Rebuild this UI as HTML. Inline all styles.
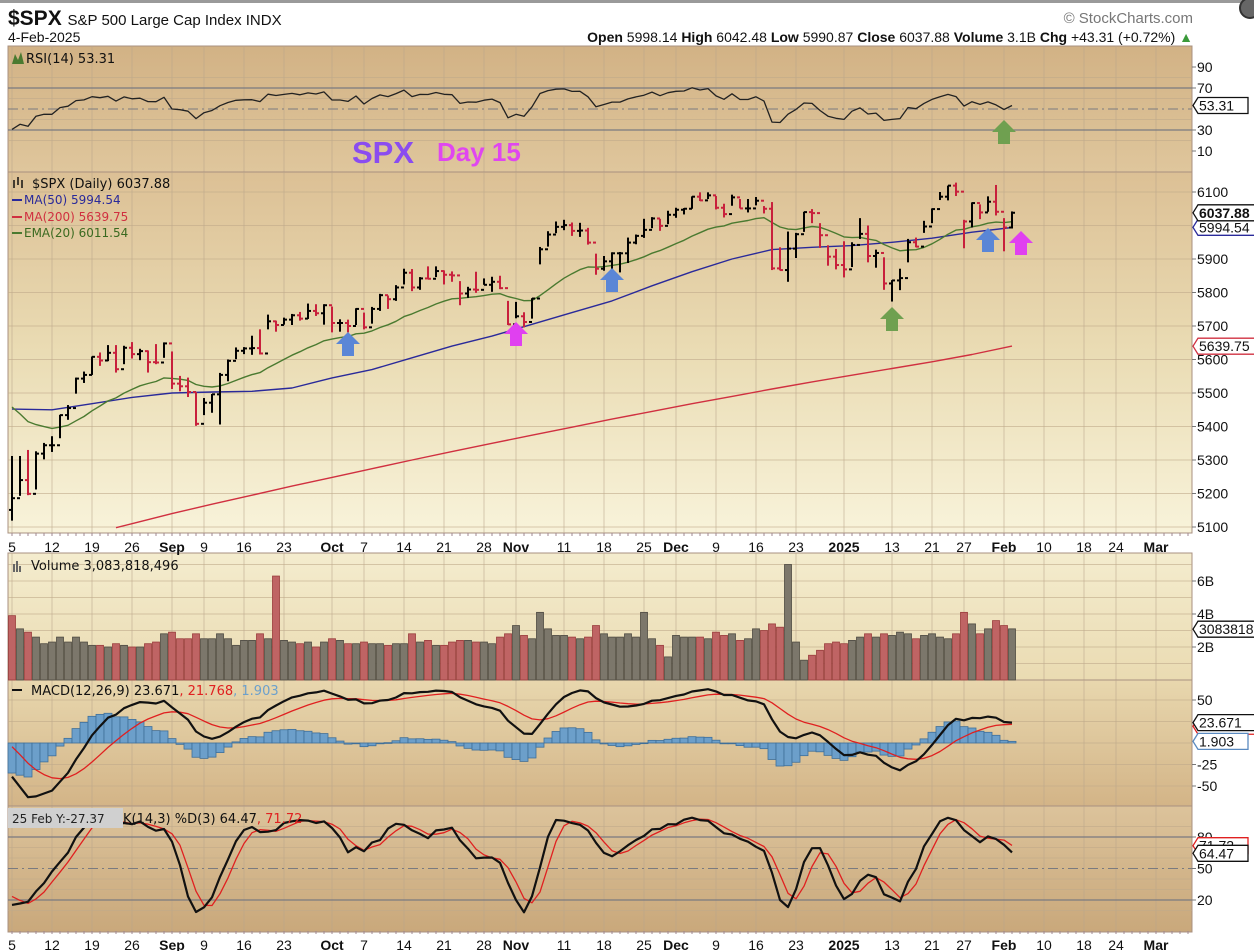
<!DOCTYPE html>
<html><head><meta charset="utf-8"><title>$SPX chart</title>
<style>
html,body{margin:0;padding:0;background:#fff;}
body{width:1254px;height:951px;overflow:hidden;font-family:"Liberation Sans",sans-serif;}
svg{display:block;}
</style></head>
<body>
<svg id="chart" width="1254" height="951" viewBox="0 0 1254 951" xmlns="http://www.w3.org/2000/svg">
<defs>
<linearGradient id="gRsi" x1="0" y1="0" x2="0" y2="1"><stop offset="0" stop-color="#d2b285"/><stop offset="1" stop-color="#dfc69c"/></linearGradient>
<linearGradient id="gPrice" x1="0" y1="0" x2="0" y2="1"><stop offset="0" stop-color="#dcc095"/><stop offset="0.5" stop-color="#eadcb4"/><stop offset="1" stop-color="#f8f3da"/></linearGradient>
<linearGradient id="gVol" x1="0" y1="0" x2="0" y2="1"><stop offset="0" stop-color="#f4ecce"/><stop offset="1" stop-color="#eadbb2"/></linearGradient>
<linearGradient id="gMacd" x1="0" y1="0" x2="0" y2="1"><stop offset="0" stop-color="#e8d7ae"/><stop offset="1" stop-color="#d3b487"/></linearGradient>
<linearGradient id="gSto" x1="0" y1="0" x2="0" y2="1"><stop offset="0" stop-color="#dcc39b"/><stop offset="1" stop-color="#c9a87b"/></linearGradient>
</defs>
<rect x="0" y="0" width="1254" height="3" fill="#9a9a9a"/>
<g>
<text x="8" y="25" font-size="21" font-weight="bold" fill="#111">$SPX <tspan font-size="15" font-weight="normal">S&amp;P 500 Large Cap Index  INDX</tspan></text>
<text x="8" y="42" font-size="14" fill="#111">4-Feb-2025</text>
<text x="1193" y="42" font-size="14" text-anchor="end" fill="#111"><tspan font-weight="bold">Open</tspan> 5998.14 <tspan font-weight="bold">High</tspan> 6042.48 <tspan font-weight="bold">Low</tspan> 5990.87 <tspan font-weight="bold">Close</tspan> 6037.88 <tspan font-weight="bold">Volume</tspan> 3.1B <tspan font-weight="bold">Chg</tspan> +43.31 (+0.72%) <tspan fill="#3a9a3a">▲</tspan></text>
<text x="1193" y="23" font-size="15" text-anchor="end" fill="#777">© StockCharts.com</text>
<circle cx="1250" cy="8" r="10" fill="#666" stroke="#333" stroke-width="2"/>
</g>
<g id="panels"></g>
<g id="marks"></g>
<g>
<text x="352" y="163" font-size="31" font-weight="bold" fill="#8a4cf0">SPX</text>
<text x="437" y="161" font-size="26" font-weight="bold" fill="#e046f0">Day 15</text>
</g>
<g id="arrows"></g>
</svg>
<script>
// ---- data ----
const preClose=[5572,5577,5633,5585,5615,5631,5667,5589,5545,5505,5564,5556,5427,5399,5459,5464,5436,5522,5446,5347];
const preHigh=[5583,5590,5635,5642,5655,5666,5667,5622,5614,5557,5567,5585,5524,5491,5479,5487,5489,5551,5567,5383];
const preLow=[5562,5565,5587,5575,5590,5614,5632,5584,5522,5497,5524,5548,5426,5390,5430,5444,5401,5485,5412,5302];
const closes=[5186,5240,5199,5319,5344,5344,5434,5455,5543,5554,5608,5597,5620,5571,5635,5616,5625,5592,5591,5648,
5528,5520,5503,5408,5471,5496,5554,5596,5626,5633,5634,5618,5714,5703,5719,5732,5722,5745,5738,5762,
5709,5709,5700,5751,5696,5751,5792,5780,5815,5859,5815,5842,5841,5864,5853,5851,5797,5809,5808,5823,5832,5813,5705,
5729,5712,5782,5929,5973,5996,6001,5984,5985,5949,5871,5893,5917,5917,5949,5969,5987,6021,5999,6032,
6047,6050,6086,6075,6090,6053,6034,6084,6051,6051,6074,6050,5872,5867,5931,5974,6040,6037,5971,5907,5882,
5869,5942,5975,5909,5918,5827,5836,5843,5950,5937,5997,6049,6086,6119,6101,6012,6067,6039,6071,6041,
5994,6038];
const highs=[5312,5312,5330,5326,5351,5371,5435,5464,5546,5564,5609,5621,5643,5643,5641,5652,5632,5627,5646,5651,
5624,5551,5546,5503,5485,5497,5560,5600,5636,5637,5671,5690,5734,5716,5725,5736,5742,5767,5765,5765,
5758,5720,5719,5753,5740,5757,5796,5791,5822,5871,5870,5846,5878,5878,5866,5863,5834,5817,5862,5842,5847,5850,5775,
5772,5741,5783,5936,5983,6012,6017,6009,6008,5993,5916,5909,5920,5921,5964,5973,6020,6025,6020,6044,
6053,6052,6087,6099,6099,6088,6065,6092,6079,6079,6085,6058,6070,5935,5982,5978,6041,6049,6007,5941,5930,
5953,5950,6022,6000,5928,5905,5837,5871,5960,5964,6014,6051,6100,6119,6128,6017,6069,6063,6087,6121,
6022,6042];
const lows=[5119,5193,5195,5212,5302,5324,5365,5420,5498,5530,5554,5581,5595,5561,5586,5603,5598,5561,5586,5605,
5512,5505,5488,5402,5434,5441,5406,5535,5601,5616,5614,5615,5690,5683,5704,5703,5716,5721,5730,5704,
5681,5683,5681,5703,5690,5707,5745,5751,5775,5824,5804,5808,5840,5846,5824,5832,5762,5784,5799,5823,5802,5810,5703,
5723,5696,5722,5884,5937,5977,5986,5969,5966,5943,5853,5865,5851,5860,5888,5944,5963,5992,5984,6004,
6023,6033,6050,6073,6079,6048,6024,6059,6051,6039,6060,6036,5867,5866,5832,5903,5981,6007,5933,5880,5869,
5845,5876,5960,5890,5874,5808,5773,5807,5890,5935,5978,6007,6076,6075,6088,5932,5994,6019,6041,6030,
5923,5991];
const firstOpen=5151;
const volumes=[3.9,3.1,2.9,2.6,2.2,2.3,2.6,2.3,2.6,2.3,2.1,2.1,2.0,2.2,2.1,2.0,2.0,2.2,2.3,2.8,
2.9,2.5,2.5,2.8,2.5,2.5,2.8,2.5,2.1,2.4,2.4,2.8,2.5,6.3,2.4,2.3,2.2,2.3,2.0,2.3,
2.5,2.4,2.2,2.2,2.3,2.2,2.2,2.1,2.2,2.2,2.8,2.3,2.4,2.1,2.1,2.3,2.4,2.4,2.3,2.3,2.2,2.6,2.8,
3.3,2.7,2.5,4.1,3.1,2.7,2.7,2.6,2.5,2.6,3.3,2.8,2.6,2.6,2.8,2.6,4.1,2.5,2.1,1.4,
2.7,2.6,2.6,2.6,2.5,2.9,2.7,2.8,2.4,2.5,3.1,3.0,3.4,3.2,7.0,2.3,1.2,1.5,1.8,2.2,2.3,
2.2,2.4,2.6,2.8,2.6,2.8,2.7,2.9,2.8,2.5,2.7,2.8,2.6,2.5,2.8,4.1,3.4,2.8,3.1,3.6,
3.3,3.1];
const ma50Idx=[0,5,10,15,20,25,30,35,40,45,50,55,60,65,70,75,80,85,90,95,100,105,110,115,120,125];
const ma50Val=[5452,5450,5468,5487,5500,5503,5505,5515,5545,5570,5605,5640,5670,5705,5740,5775,5820,5862,5900,5928,5935,5940,5950,5962,5980,5994];
const ma200Idx=[13,15,20,25,30,35,40,45,50,55,60,65,70,75,80,85,90,95,100,105,110,115,120,125];
const ma200Val=[5098,5110,5140,5168,5195,5222,5248,5274,5300,5325,5350,5374,5398,5422,5445,5468,5490,5512,5533,5553,5573,5593,5615,5640];
const emaSeed=5480, ema12Seed=5510, ema26Seed=5450, signalSeed=52, rsiGainSeed=18, rsiLossSeed=10;
const dateLabels=["5","12","19","26","Sep","9","16","23","Oct","7","14","21","28","Nov","11","18","25","Dec","9","16","23","2025","13","21","27","Feb","10","18","24","Mar"];
const dateIdx=[0,5,10,15,20,24,29,34,40,44,49,54,59,63,69,74,79,83,88,93,98,104,110,115,119,124,129,134,138,143];
const dateBold=["Sep","Oct","Nov","Dec","2025","Feb","Mar"];
const priceTicks=[6100,6000,5900,5800,5700,5600,5500,5400,5300,5200,5100];
const priceTickLabels=["6100","","5900","5800","5700","5600","5500","5400","5300","5200","5100"];
const rsiTicks=[90,70,30,10];
const volTicks=[6,4,2];
const volTickLabels=["6B","4B","2B"];
const macdTicks=[50,-25,-50];
const stoTicks=[80,50,20];

// ---- geometry ----
const X0=8, X1=1192;
const xOf=i=>12+i*8;
const P={rsi:[46,172],price:[172,533],vol:[553,680],macd:[680,806],sto:[806,932]};
const yPrice=p=>192+(6100-p)*0.335;
const yRsi=v=>161.5-1.05*v;
const yVol=v=>680-16.5*v;
const yMacd=v=>743-0.86*v;
const ySto=v=>921-1.05*v;
const NS="http://www.w3.org/2000/svg";
const panels=document.getElementById('panels'), marks=document.getElementById('marks'), arrowsG=document.getElementById('arrows');
function mk(tag,attrs,parent){const e=document.createElementNS(NS,tag);for(const k in attrs)e.setAttribute(k,attrs[k]);(parent||marks).appendChild(e);return e;}

// ---- indicators ----
const allC=preClose.concat(closes), allH=preHigh.concat(highs), allL=preLow.concat(lows), N0=preClose.length;
let e=emaSeed; const ema20=[];
let e12=ema12Seed,e26=ema26Seed,sig=signalSeed; const macd=[],signal=[];
let ag=rsiGainSeed,al=rsiLossSeed; const rsi=[];
const fastK=[],slowK=[],pctD=[];
for(let i=0;i<allC.length;i++){
  const c=allC[i];
  e=e+(c-e)*2/21; e12=e12+(c-e12)*2/13; e26=e26+(c-e26)*2/27;
  const m=e12-e26; sig=sig+(m-sig)*2/10;
  if(i>0){const d=c-allC[i-1]; ag=(ag*13+Math.max(d,0))/14; al=(al*13+Math.max(-d,0))/14;}
  let hh=-1e9,ll=1e9; for(let j=Math.max(0,i-13);j<=i;j++){hh=Math.max(hh,allH[j]);ll=Math.min(ll,allL[j]);}
  fastK.push(hh>ll?100*(c-ll)/(hh-ll):50);
  const sk=fastK.slice(Math.max(0,i-2)).reduce((a,b)=>a+b,0)/Math.min(3,i+1); slowK.push(sk);
  const dd=slowK.slice(Math.max(0,i-2)).reduce((a,b)=>a+b,0)/Math.min(3,i+1); pctD.push(dd);
  if(i>=N0){ema20.push(e);macd.push(m);signal.push(sig);rsi.push(100-100/(1+ag/al));}
}
const kV=slowK.slice(N0), dV=pctD.slice(N0);

// ---- panels ----
const fills={rsi:'url(#gRsi)',price:'url(#gPrice)',vol:'url(#gVol)',macd:'url(#gMacd)',sto:'url(#gSto)'};
for(const k in P){
  const r=mk('rect',{x:X0,y:P[k][0],width:X1-X0,height:P[k][1]-P[k][0],fill:fills[k],stroke:'#a89080','stroke-width':1},panels);
  
  
  dateIdx.forEach(i=>{mk('line',{x1:xOf(i),x2:xOf(i),y1:P[k][0],y2:P[k][1],stroke:'#b8a48a','stroke-width':1,'stroke-opacity':0.55},panels);});
}
function hgrid(y,panel,strong){mk('line',{x1:X0,x2:X1,y1:y,y2:y,stroke:strong?'#7a7a80':'#c0aa8a','stroke-width':strong?1.3:1,'stroke-opacity':strong?1:0.6},panels);}
function rlabel(y,t,name){const tx=mk('text',{x:1197,y:y+5,'font-size':14,fill:'#111'},panels);tx.textContent=t;
  
  
  mk('line',{x1:X1,x2:X1+4,y1:y,y2:y,stroke:'#777'},panels);}
[80,60,40,20].forEach(v=>hgrid(yRsi(v),'rsi',false));
rsiTicks.forEach(v=>{if(v===70||v===30)hgrid(yRsi(v),'rsi',true);rlabel(yRsi(v),String(v),'rsi-tick-label');});
mk('line',{x1:X0,x2:X1,y1:yRsi(50),y2:yRsi(50),stroke:'#7a7a80','stroke-dasharray':'10,4,2,4'},panels);
priceTicks.forEach((v,i)=>{hgrid(yPrice(v),'price',false);if(priceTickLabels[i])rlabel(yPrice(v),priceTickLabels[i],'price-tick-label');});
[7,6,5,4,3,2,1].forEach(v=>hgrid(yVol(v),'vol',false));
volTicks.forEach((v,i)=>rlabel(yVol(v),volTickLabels[i],'volume-tick-label'));
[50,25,0,-25,-50].forEach(v=>hgrid(yMacd(v),'macd',false));
macdTicks.forEach(v=>rlabel(yMacd(v),String(v),'macd-tick-label'));
[90,70,60,40,30,10].forEach(v=>hgrid(ySto(v),'sto',false));
stoTicks.forEach(v=>{if(v!==50)hgrid(ySto(v),'sto',true);rlabel(ySto(v),String(v),'stoch-tick-label');});
mk('line',{x1:X0,x2:X1,y1:ySto(50),y2:ySto(50),stroke:'#7a7a80','stroke-dasharray':'10,4,2,4'},panels);

[[535,552],[933,950]].forEach(([y0,yt],ai)=>{
  for(let i=0;i<=147;i++){mk('line',{x1:xOf(i),x2:xOf(i),y1:y0-2,y2:y0+1,stroke:'#a08890'},panels);}
  dateLabels.forEach((t,j)=>{
    const tx=mk('text',{x:xOf(dateIdx[j]),y:yt,'font-size':14,'text-anchor':'middle',fill:'#111','font-weight':dateBold.includes(t)?'bold':'normal'},panels);
    tx.textContent=t;
    
    
  });
});

function poly(pts,color,w,name){const p=mk('polyline',{points:pts.map(q=>q[0].toFixed(1)+','+q[1].toFixed(1)).join(' '),fill:'none',stroke:color,'stroke-width':w,'stroke-linejoin':'round'});
  
  return p;}

poly(rsi.map((v,i)=>[xOf(i),yRsi(v)]),'#222',1.3,'rsi-line');

poly(ma200Idx.map((i,k)=>[xOf(i),yPrice(ma200Val[k])]),'#d03040',1.4,'ma200-line');
poly(ma50Idx.map((i,k)=>[xOf(i),yPrice(ma50Val[k])]),'#2a2a9a',1.4,'ma50-line');
poly(ema20.map((v,i)=>[xOf(i),yPrice(v)]),'#4a7a30',1.4,'ema20-line');
closes.forEach((c,i)=>{
  const o=i===0?firstOpen:closes[i-1];
  const col=c<o?'#c8203c':'#000';
  const x=xOf(i);
  const g=mk('g',{stroke:col,'stroke-width':2});
  
  
  mk('line',{x1:x,x2:x,y1:yPrice(highs[i]),y2:yPrice(lows[i])},g);
  mk('line',{x1:x-3,x2:x,y1:yPrice(o),y2:yPrice(o)},g);
  mk('line',{x1:x,x2:x+3,y1:yPrice(c),y2:yPrice(c)},g);
});

volumes.forEach((v,i)=>{
  const down=i>0?closes[i]<closes[i-1]:true;
  const r=mk('rect',{x:xOf(i)-3.5,y:yVol(v),width:7,height:680-yVol(v),fill:down?'#bf6464':'#7c776b',stroke:down?'#9a3c3c':'#4e4a42','stroke-width':0.8});
  
  
});

macd.forEach((m,i)=>{
  const h=m-signal[i]; const y0=yMacd(0), y1=yMacd(h);
  const r=mk('rect',{x:xOf(i)-4,y:Math.min(y0,y1),width:8,height:Math.max(0.8,Math.abs(y1-y0)),fill:'#6c9fca',stroke:'#3f6f99','stroke-width':0.8});
  
  
});
poly(signal.map((v,i)=>[xOf(i),yMacd(v)]),'#e02020',1.3,'macd-signal-line');
poly(macd.map((v,i)=>[xOf(i),yMacd(v)]),'#111',2.2,'macd-line');

poly(dV.map((v,i)=>[xOf(i),ySto(v)]),'#e02020',1.3,'stoch-d-line');
poly(kV.map((v,i)=>[xOf(i),ySto(v)]),'#111',2.2,'stoch-k-line');

function txt(x,y,s,col,name,size,weight){const t=mk('text',{x:x,y:y,'font-size':size||14,fill:col,'font-family':'"DejaVu Sans",sans-serif','font-weight':weight||'normal'});t.textContent=s;
  
  return t;}
txt(26,63,'RSI(14) 53.31','#111','rsi-legend',13);
mk('path',{d:'M12,64 L15,54 L18,60 L21,52 L24,64 Z',fill:'#4a7a30'});
txt(32,188,'$SPX (Daily) 6037.88','#111','price-legend',13);
mk('path',{d:'M14,180 v8 M18,177 v8 M22,180 v8',stroke:'#111','stroke-width':1.5});
mk('line',{x1:12,x2:22,y1:200,y2:200,stroke:'#2a2a9a','stroke-width':2});txt(24,204,'MA(50) 5994.54','#2a2a9a','ma50-legend',12);
mk('line',{x1:12,x2:22,y1:217,y2:217,stroke:'#d03040','stroke-width':2});txt(24,221,'MA(200) 5639.75','#d03040','ma200-legend',12);
mk('line',{x1:12,x2:22,y1:233,y2:233,stroke:'#4a7a30','stroke-width':2});txt(24,237,'EMA(20) 6011.54','#3a6a20','ema20-legend',12);
mk('path',{d:'M13,572 v-8 h2 v8 M16,572 v-11 h2 v11 M19,572 v-6 h2 v6',fill:'#666'});
txt(31,570,'Volume 3,083,818,496','#111','volume-legend',13);
mk('line',{x1:12,x2:22,y1:690,y2:690,stroke:'#111','stroke-width':2});
const ml=txt(31,695,'MACD(12,26,9) 23.671','#111','macd-legend',13);
const s1=document.createElementNS(NS,'tspan');s1.setAttribute('fill','#e02020');s1.textContent=', 21.768';ml.appendChild(s1);
const s2=document.createElementNS(NS,'tspan');s2.setAttribute('fill','#6ca0cc');s2.textContent=', 1.903';ml.appendChild(s2);
const gb=mk('rect',{x:8,y:808,width:115,height:20,fill:'#d0d0d0'});


txt(12,823,'25 Feb Y:-27.37','#222','crosshair-readout-text',12);
const sl=txt(123,823,'K(14,3) %D(3) 64.47','#111','stoch-legend',13);
const s3=document.createElementNS(NS,'tspan');s3.setAttribute('fill','#e02020');s3.textContent=', 71.72';sl.appendChild(s3);

function tag(y,t,stroke,bold,name,w){
  const g=mk('g',{});
  
  
  mk('path',{d:`M${X1+1},${y} L${X1+6},${y-8} H${X1+6+w} V${y+8} H${X1+6} Z`,fill:'#fff',stroke:stroke,'stroke-width':1.3},g);
  const tx=mk('text',{x:X1+7,y:y+5,'font-size':14,fill:'#111','font-weight':bold?'bold':'normal'},g);tx.textContent=t;
}
tag(yRsi(53.31),'53.31','#111',false,'rsi-value-tag',50);
tag(yPrice(5994.54),'5994.54','#2a2a9a',false,'ma50-value-tag',60);
tag(yPrice(6037.88),'6037.88','#111',true,'close-value-tag',60);
tag(yPrice(5639.75),'5639.75','#d03040',false,'ma200-value-tag',60);
tag(yVol(3.08),'3083818','#111',false,'volume-value-tag',60);
tag(yMacd(21.768)+2,'','#e02020',false,'signal-value-tag',60);
tag(yMacd(23.671),'23.671','#111',false,'macd-value-tag',60);
tag(yMacd(1.903),'1.903','#5a8ac0',false,'histogram-value-tag',50);
tag(ySto(71.72),'71.72','#e02020',false,'stoch-d-value-tag',50);
tag(ySto(64.47),'64.47','#111',false,'stoch-k-value-tag',50);

const arrowX=[348,612,988,516,1021,1004,892];
const arrowY=[332,268,228,322,231,120,307];
const arrowC=['#5a86d6','#5a86d6','#5a86d6','#e040f0','#e040f0','#6fa050','#6fa050'];
arrowX.forEach((x,k)=>{
  const y=arrowY[k];
  const p=mk('path',{d:`M${x},${y} L${x+12},${y+12} H${x+6} V${y+24} H${x-6} V${y+12} H${x-12} Z`,fill:arrowC[k]},arrowsG);
  
  
});
</script>
</body></html>
